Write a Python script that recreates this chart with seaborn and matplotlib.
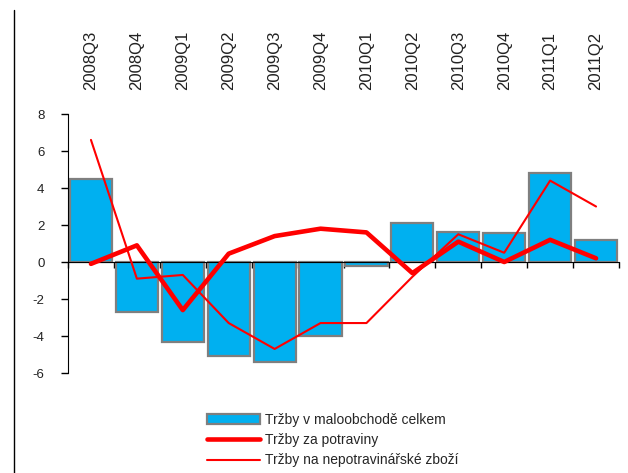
import numpy as np
import matplotlib.pyplot as plt
import seaborn as sns
from matplotlib.lines import Line2D

quarters = ["2008Q3", "2008Q4", "2009Q1", "2009Q2", "2009Q3", "2009Q4",
            "2010Q1", "2010Q2", "2010Q3", "2010Q4", "2011Q1", "2011Q2"]
celkem = [4.5, -2.7, -4.3, -5.1, -5.4, -4.0, -0.2, 2.1, 1.6, 1.55, 4.8, 1.2]
potraviny = [-0.1, 0.9, -2.6, 0.45, 1.4, 1.8, 1.6, -0.6, 1.1, 0.0, 1.2, 0.2]
nepotravinarske = [6.6, -0.9, -0.7, -3.3, -4.7, -3.3, -3.3, -0.8, 1.5, 0.5, 4.4, 3.0]

sns.set_style("white")
plt.rcParams['font.family'] = ['Liberation Sans', 'DejaVu Sans']

fig = plt.figure(figsize=(6.28, 4.73), dpi=100)
ax = fig.add_axes([68 / 628, 1 - 373 / 473, 551 / 628, 259 / 473])

pos = np.arange(len(quarters))
sns.barplot(x=pos, y=celkem, ax=ax, color="#00B0F0", saturation=1,
            edgecolor="#7f7f7f", linewidth=1.6, width=0.92,
            label="Tržby v maloobchodě celkem", native_scale=True)
sns.lineplot(x=pos, y=potraviny, ax=ax, color="red", linewidth=3.3,
             label="Tržby za potraviny", zorder=4)
sns.lineplot(x=pos, y=nepotravinarske, ax=ax, color="red", linewidth=1.5,
             label="Tržby na nepotravinářské zboží", zorder=4)

ax.set_xlim(-0.5, 11.5)
ax.set_ylim(-6, 8)
ax.set_yticks(range(-6, 9, 2))
ax.set_yticklabels([str(v) for v in range(-6, 9, 2)], fontsize=9.5, color="#222222")

# x axis on the zero line, labels on top
for s in ["top", "right"]:
    ax.spines[s].set_visible(False)
ax.spines["bottom"].set_position(("data", 0))
ax.spines["bottom"].set_color("black")
ax.spines["bottom"].set_zorder(3)
ax.spines["left"].set_color("black")
ax.set_xticks(pos)
ax.set_xticks(np.arange(-0.5, 12, 1), minor=True)
ax.set_xticklabels(quarters, rotation=90, fontsize=12, color="#222222")
ax.tick_params(axis="x", which="major", length=0, labeltop=True,
               labelbottom=False, pad=17)
ax.tick_params(axis="x", which="minor", length=4, width=1, color="black",
               direction="out", bottom=True)
ax.tick_params(axis="y", length=5, width=1, color="black", left=True, pad=12)

handles, labels = ax.get_legend_handles_labels()
order = [labels.index(l) for l in ["Tržby v maloobchodě celkem",
                                   "Tržby za potraviny",
                                   "Tržby na nepotravinářské zboží"]]
ax.legend([handles[i] for i in order], [labels[i] for i in order],
          loc="upper left", bbox_to_anchor=(200 / 628, 1 - 406 / 473),
          bbox_transform=fig.transFigure, frameon=False, fontsize=10,
          borderpad=0, handlelength=3.8, handletextpad=0.35,
          labelspacing=0.45)

fig.add_artist(Line2D([14 / 628, 14 / 628], [0, 1 - 10 / 473],
                      transform=fig.transFigure, color="black", linewidth=1))

fig.savefig("out.png", dpi=100)
